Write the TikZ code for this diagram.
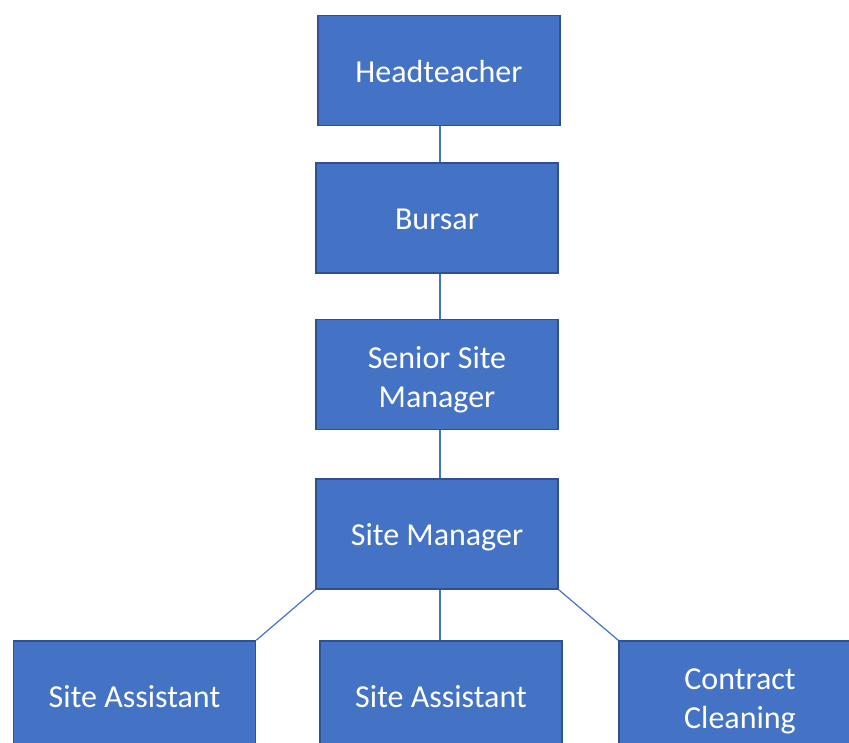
\documentclass[tikz,border=0pt]{standalone}
\usepackage{fontspec}
\setmainfont{Carlito}
\usepackage{xcolor}
\definecolor{boxblue}{HTML}{4472C4}
\definecolor{edgeblue}{HTML}{2F528F}
\newcommand{\rolestrut}{\rule[-8pt]{0pt}{39.5pt}}
\tikzset{
  rolebox/.style={draw=edgeblue, line width=1.5pt, fill=boxblue, text=white,
    minimum width=242pt, minimum height=110pt, align=center,
    font=\fontsize{32}{39}\selectfont},
  link/.style={draw=boxblue, line width=1.2pt}
}

\begin{document}
\begin{tikzpicture}[x=1pt,y=-1pt]
                \useasboundingbox (0,0) rectangle (849,743);
                \clip (0,0) rectangle (849,743);
                \coordinate (spine) at (440,0);

                \node[rolebox] (head) at (439,70.5) {\rolestrut Headteacher};
                \node[rolebox] (bursar) at (437,218) {\rolestrut Bursar};
                \node[rolebox] (senior) at (437,374.5) {\rolestrut Senior Site\\Manager};
                \node[rolebox] (manager) at (437,534) {\rolestrut Site Manager};

                \node[rolebox] (assistA) at (134.5,696) {\rolestrut Site Assistant};
                \node[rolebox] (assistB) at (441,696) {\rolestrut Site Assistant};
                \node[rolebox] (cleaning) at (740,696) {\rolestrut Contract\\Cleaning};

                \draw[link] (head.south -| spine) -- (bursar.north -| spine);
                \draw[link] (bursar.south -| spine) -- (senior.north -| spine);
                \draw[link] (senior.south -| spine) -- (manager.north -| spine);
                \draw[link] (manager.south west) -- (assistA.north east);
                \draw[link] (manager.south -| spine) -- (assistB.north -| spine);
                \draw[link] (manager.south east) -- (cleaning.north west);
            \end{tikzpicture}
\end{document}
